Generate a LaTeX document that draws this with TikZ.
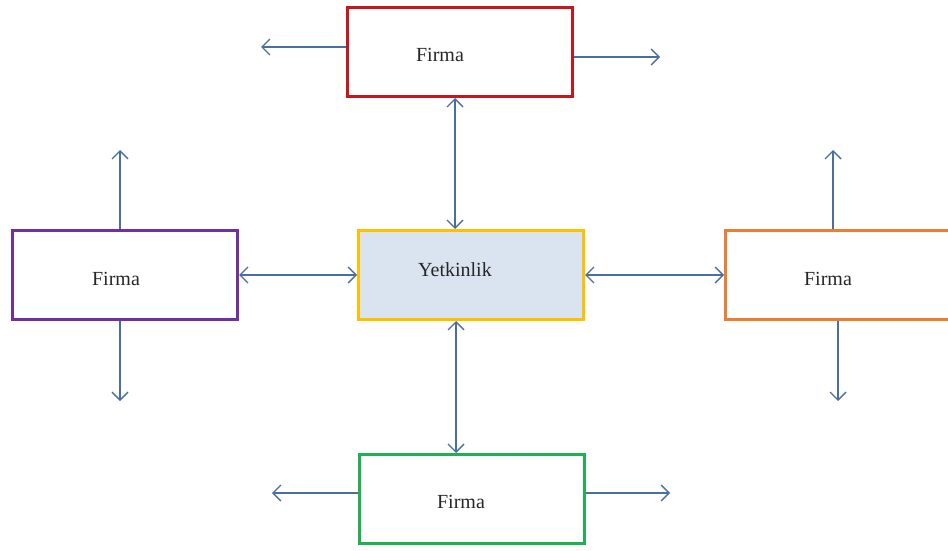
\documentclass[tikz,border=0pt]{standalone}
\usepackage{fontspec}
\setmainfont{Liberation Serif}
\usetikzlibrary{arrows.meta}
\definecolor{arrcol}{HTML}{4A6E9F}
\definecolor{redc}{HTML}{C8161D}
\definecolor{purc}{HTML}{7030A0}
\definecolor{yelc}{HTML}{FFC000}
\definecolor{orac}{HTML}{ED7D31}
\definecolor{grec}{HTML}{1DB150}
\definecolor{fillc}{HTML}{DAE3F0}
\begin{document}
\begin{tikzpicture}[x=1pt,y=-1pt,
  box/.style={draw, line width=3pt, minimum width=225pt, minimum height=89pt, inner sep=0pt},
  lbl/.style={font=\fontsize{20}{24}\selectfont, text=black!85, inner sep=0pt},
  tip/.tip={Straight Barb[length=8pt,width=16pt,line width=1.4pt]},
  arr/.style={draw=arrcol, line width=1.4pt, -tip},
  darr/.style={draw=arrcol, line width=1.4pt, tip-tip}]
\useasboundingbox (0,0) rectangle (948,551);
\clip (0,0) rectangle (948,551);
% boxes
\node[box, draw=redc] (red) at (460,52) {};
\node[box, draw=purc] (pur) at (125,275) {};
\node[box, draw=yelc, fill=fillc] (yel) at (471,275) {};
\node[box, draw=orac] (ora) at (838,275) {};
\node[box, draw=grec] (gre) at (471.5,499) {};
% labels
\node[lbl] (t1) at (440,55) {Firma};
\node[lbl] (t2) at (116,279) {Firma};
\node[lbl] (t3) at (455,270) {Yetkinlik};
\node[lbl] (t4) at (828,279) {Firma};
\node[lbl] (t5) at (461,502) {Firma};
% free ends
\coordinate (redL) at (261,47);
\coordinate (redR) at (660,57);
\coordinate (purU) at (120,150);
\coordinate (purD) at (120,401);
\coordinate (oraU) at (833,150);
\coordinate (oraD) at (838,401);
\coordinate (greL) at (272,493);
\coordinate (greR) at (670,493);
% outward arrows
\draw[arr] (red.west |- redL) -- (redL);
\draw[arr] (red.east |- redR) -- (redR);
\draw[arr] (pur.north -| purU) -- (purU);
\draw[arr] (pur.south -| purD) -- (purD);
\draw[arr] (ora.north -| oraU) -- (oraU);
\draw[arr] (ora.south -| oraD) -- (oraD);
\draw[arr] (gre.west |- greL) -- (greL);
\draw[arr] (gre.east |- greR) -- (greR);
% double arrows
\draw[darr] (red.south -| 455,0) -- (yel.north -| 455,0);
\draw[darr] (pur.east) -- (yel.west);
\draw[darr] (yel.east) -- (ora.west);
\draw[darr] (yel.south -| 456,0) -- (gre.north -| 456,0);
\end{tikzpicture}
\end{document}
